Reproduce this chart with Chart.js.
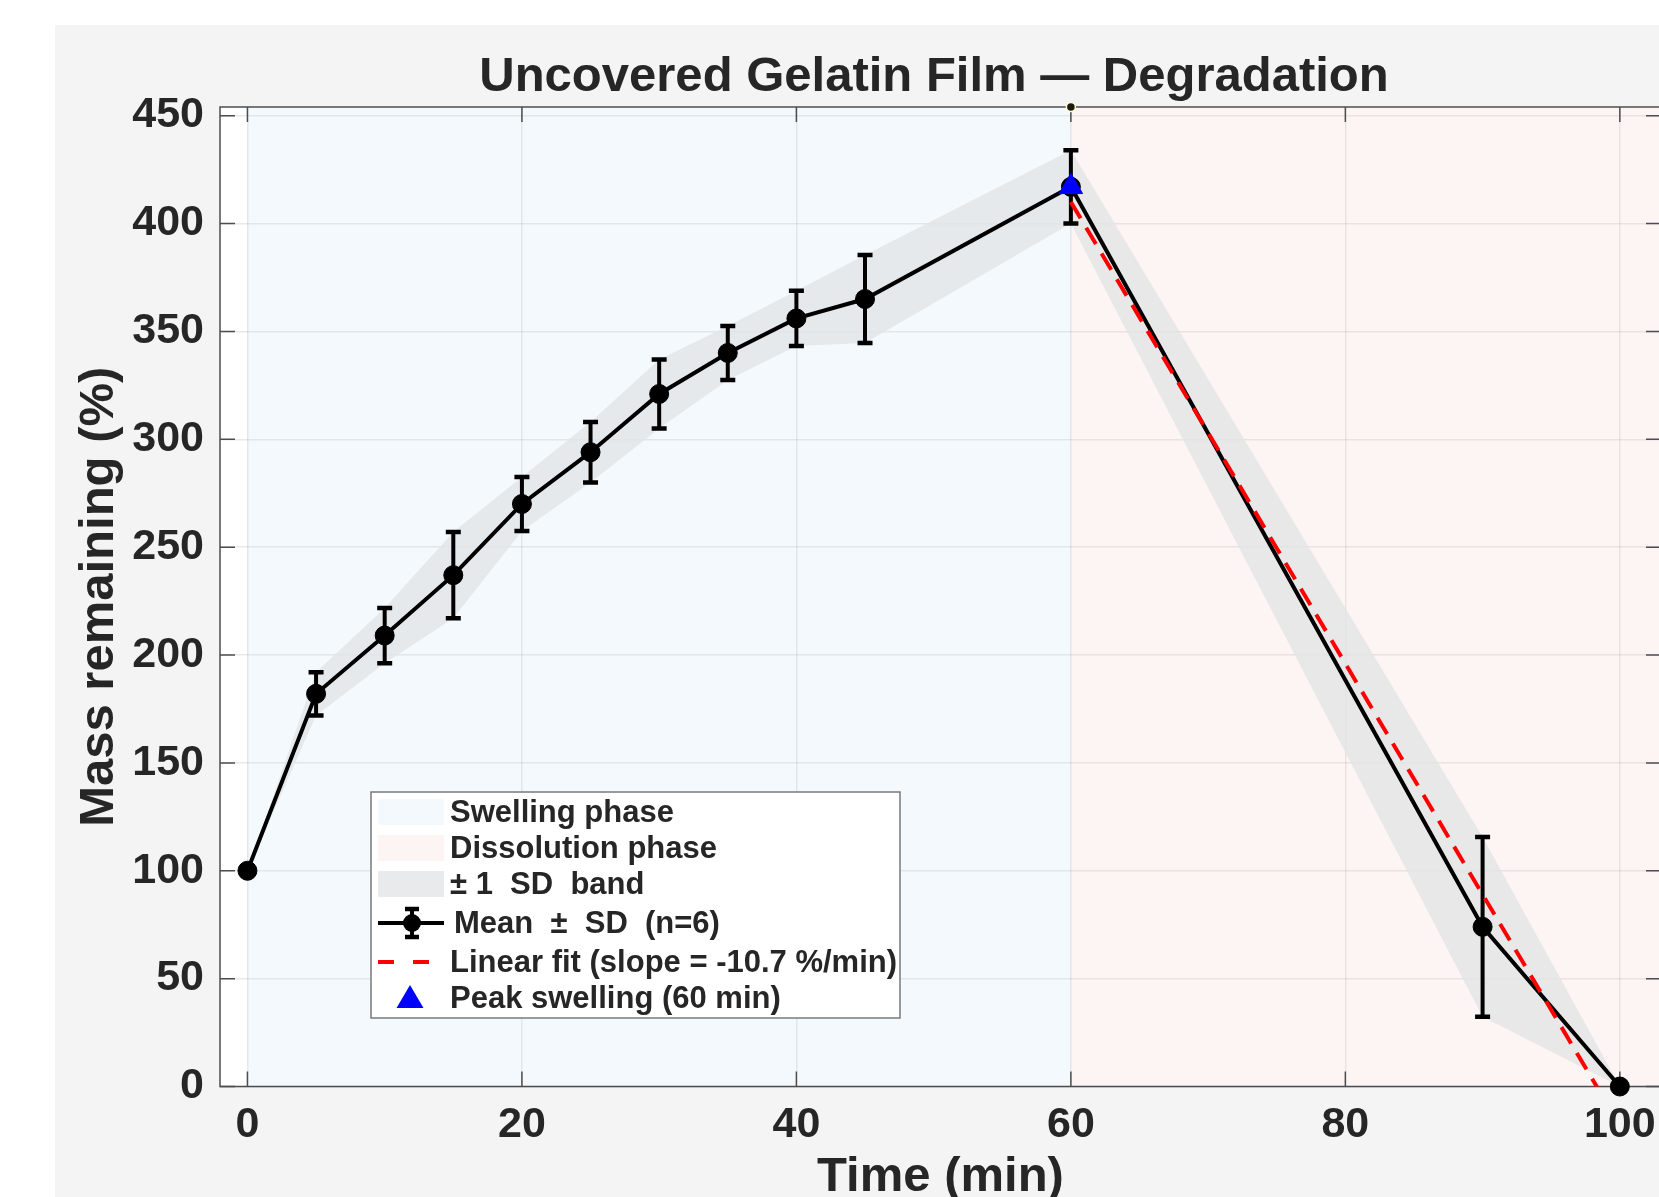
<!DOCTYPE html>
<html>
<head>
<meta charset="utf-8">
<script src="https://cdn.jsdelivr.net/npm/chart.js@4.4.1/dist/chart.umd.min.js"></script>
<style>
html,body{margin:0;padding:0;overflow:hidden;background:#fff;width:1659px;height:1197px}
#c{position:absolute;left:0;top:0}
</style>
</head>
<body>
<canvas id="c" width="1700" height="1197" style="width:1700px;height:1197px"></canvas>
<script>
// ---------- data ----------
const chartTitle = 'Uncovered Gelatin Film \u2014 Degradation';
const xAxisTitle = 'Time (min)';
const yAxisTitle = 'Mass remaining (%)';
const timeMin  = [0, 5, 10, 15, 20, 25, 30, 35, 40, 45, 60, 90, 100];
const meanMass = [100, 182, 209, 237, 270, 294, 321, 340, 356, 365, 417, 74, 0];
const sdMass   = [0, 10, 12.8, 20, 12.5, 14, 16, 12.5, 12.8, 20.4, 17, 41.7, 0];
const fitTime  = [60, 100];
const fitMass  = [410, -18];
const peakTime = [60];
const peakMass = [417];
const swellingRange    = [0, 60];
const dissolutionRange = [60, 103];
const markTime = [60];
const markMass = [454];
const xTickValues = [0, 20, 40, 60, 80, 100];
const xTickLabels = ['0', '20', '40', '60', '80', '100'];
const yTickValues = [0, 50, 100, 150, 200, 250, 300, 350, 400, 450];
const yTickLabels = ['0', '50', '100', '150', '200', '250', '300', '350', '400', '450'];
const seriesLabels = ['Swelling phase', 'Dissolution phase', '\u00b1 1  SD  band',
  'Mean  \u00b1  SD  (n=6)', 'Linear fit (slope = -10.7 %/min)', 'Peak swelling (60 min)'];

// ---------- style ----------
const FONT = '"Liberation Sans", Arial, Helvetica, sans-serif';
const TEXT = '#262626';
const X_MIN = -2, X_MAX = 103, Y_MIN = 0, Y_MAX = 454;
const SWELL_BG = 'rgba(200,225,245,0.2)';
const DISS_BG  = 'rgba(245,195,195,0.18)';
const BAND_BG  = 'rgba(226,228,230,0.78)';

const pts = (xs, ys) => xs.map((x, i) => ({x: x, y: ys[i]}));
const upper = meanMass.map((m, i) => m + sdMass[i]);
const lower = meanMass.map((m, i) => m - sdMass[i]);

const MEAN_IDX = 4;

const framePlugin = {
  id: 'frame',
  beforeDraw(chart) {
    const {ctx, chartArea: a} = chart;
    ctx.save();
    ctx.fillStyle = '#ffffff';
    ctx.fillRect(0, 0, chart.width, chart.height);
    ctx.fillStyle = '#f4f4f4';
    ctx.fillRect(55, 25, chart.width - 55, chart.height - 25);
    ctx.fillStyle = '#ffffff';
    ctx.fillRect(a.left, a.top, a.right - a.left, a.bottom - a.top);
    ctx.restore();
  },
  afterDatasetDraw(chart, args) {
    if (args.index !== 0) return;
    const {ctx, chartArea: a, scales: {x, y}} = chart;
    ctx.save();
    ctx.strokeStyle = '#4d4d4d';
    ctx.lineWidth = 1.5;
    ctx.strokeRect(a.left, a.top, a.right - a.left, a.bottom - a.top);
    const L = 15;
    ctx.beginPath();
    xTickValues.forEach(v => {
      const p = x.getPixelForValue(v);
      ctx.moveTo(p, a.bottom); ctx.lineTo(p, a.bottom - L);
      ctx.moveTo(p, a.top); ctx.lineTo(p, a.top + L);
    });
    yTickValues.forEach(v => {
      const p = y.getPixelForValue(v);
      ctx.moveTo(a.left, p); ctx.lineTo(a.left + L, p);
      ctx.moveTo(a.right, p); ctx.lineTo(a.right - L, p);
    });
    ctx.stroke();
    ctx.restore();
  },
  beforeDatasetDraw(chart, args) {
    if (args.index !== MEAN_IDX) return;
    const {ctx, scales: {x, y}} = chart;
    ctx.save();
    ctx.strokeStyle = '#000';
    timeMin.forEach((t, i) => {
      if (!sdMass[i]) return;
      const px = x.getPixelForValue(t);
      const top = y.getPixelForValue(meanMass[i] + sdMass[i]);
      const bot = y.getPixelForValue(meanMass[i] - sdMass[i]);
      ctx.lineWidth = 4;
      ctx.beginPath();
      ctx.moveTo(px, top); ctx.lineTo(px, bot);
      ctx.stroke();
      ctx.lineWidth = 4.5;
      ctx.beginPath();
      ctx.moveTo(px - 7.5, top); ctx.lineTo(px + 7.5, top);
      ctx.moveTo(px - 7.5, bot); ctx.lineTo(px + 7.5, bot);
      ctx.stroke();
    });
    ctx.restore();
  },
  afterDraw(chart) {
    const ctx = chart.ctx;
    const ds = chart.data.datasets;
    ctx.save();
    // title
    ctx.fillStyle = TEXT;
    ctx.font = 'bold 49px ' + FONT;
    ctx.textAlign = 'center';
    ctx.textBaseline = 'alphabetic';
    ctx.fillText(chartTitle, 934, 91);
    // legend
    const L = 371, T = 792, R = 900, B = 1018;
    ctx.fillStyle = '#ffffff';
    ctx.fillRect(L, T, R - L, B - T);
    ctx.strokeStyle = '#7a7a7a';
    ctx.lineWidth = 1.5;
    ctx.strokeRect(L, T, R - L, B - T);
    const rows = [812, 848, 884, 923, 962, 998];
    const items = [[0, 'patch'], [1, 'patch'], [3, 'patch'], [4, 'errbar'], [5, 'dash'], [6, 'tri']];
    items.forEach(([idx, kind], k) => {
      const yy = rows[k];
      const d = ds[idx];
      if (kind === 'patch') {
        ctx.fillStyle = d.backgroundColor;
        ctx.fillRect(378, yy - 13, 66, 26);
      } else if (kind === 'errbar') {
        ctx.strokeStyle = '#000'; ctx.lineWidth = 4;
        ctx.beginPath(); ctx.moveTo(378, yy); ctx.lineTo(444, yy); ctx.stroke();
        ctx.beginPath(); ctx.moveTo(412, yy - 14); ctx.lineTo(412, yy + 14); ctx.stroke();
        ctx.lineWidth = 4.5;
        ctx.beginPath();
        ctx.moveTo(405, yy - 14); ctx.lineTo(419, yy - 14);
        ctx.moveTo(405, yy + 14); ctx.lineTo(419, yy + 14);
        ctx.stroke();
        ctx.fillStyle = '#000';
        ctx.beginPath(); ctx.arc(412, yy, 9, 0, Math.PI * 2); ctx.fill();
      } else if (kind === 'dash') {
        ctx.strokeStyle = d.borderColor; ctx.lineWidth = 4;
        ctx.setLineDash([16, 19]);
        ctx.beginPath(); ctx.moveTo(378, yy); ctx.lineTo(444, yy); ctx.stroke();
        ctx.setLineDash([]);
      } else if (kind === 'tri') {
        ctx.fillStyle = d.backgroundColor;
        ctx.beginPath();
        ctx.moveTo(410, yy - 13); ctx.lineTo(423.5, yy + 10); ctx.lineTo(396.5, yy + 10);
        ctx.closePath(); ctx.fill();
      }
      ctx.fillStyle = TEXT;
      ctx.font = 'bold 31px ' + FONT;
      ctx.textAlign = 'left';
      ctx.textBaseline = 'middle';
      ctx.fillText(d.label, kind === 'errbar' ? 454 : 450, yy + 1);
    });
    ctx.restore();
  }
};

const tickFont = {family: FONT, size: 43, weight: 'bold'};
const gridOpts = {color: 'rgba(0,0,0,0.09)', lineWidth: 1.5, drawTicks: false};

new Chart(document.getElementById('c'), {
  type: 'line',
  data: {
    datasets: [
      { label: seriesLabels[0], data: pts(swellingRange, [Y_MAX, Y_MAX]), fill: 'start',
        backgroundColor: SWELL_BG, borderColor: 'rgba(0,0,0,0)', borderWidth: 0, pointRadius: 0, order: 10 },
      { label: seriesLabels[1], data: pts(dissolutionRange, [Y_MAX, Y_MAX]), fill: 'start',
        backgroundColor: DISS_BG, borderColor: 'rgba(0,0,0,0)', borderWidth: 0, pointRadius: 0, order: 10 },
      { label: '', data: pts(timeMin, upper), fill: false,
        borderColor: 'rgba(0,0,0,0)', borderWidth: 0, pointRadius: 0, order: 8 },
      { label: seriesLabels[2], data: pts(timeMin, lower), fill: '-1',
        backgroundColor: BAND_BG, borderColor: 'rgba(0,0,0,0)', borderWidth: 0, pointRadius: 0, order: 8 },
      { label: seriesLabels[3], data: pts(timeMin, meanMass), borderColor: '#000000', borderWidth: 4,
        pointRadius: 9.5, pointBackgroundColor: '#000000', pointBorderColor: '#000000', pointBorderWidth: 1,
        fill: false, clip: false, order: 5 },
      { label: seriesLabels[4], data: pts(fitTime, fitMass), borderColor: '#ff0000', borderWidth: 4,
        borderDash: [19, 11], pointRadius: 0, fill: false, order: 3 },
      { label: seriesLabels[5], data: pts(peakTime, peakMass), showLine: false, pointStyle: 'triangle',
        pointRadius: 13.5, backgroundColor: '#0000ff', pointBackgroundColor: '#0000ff', pointBorderColor: '#0000ff',
        pointBorderWidth: 1, clip: false, order: 1 },
      { label: '', data: pts(markTime, markMass), showLine: false, pointRadius: 4.5,
        pointBackgroundColor: '#1a1a1a', pointBorderColor: '#ffffc0', pointBorderWidth: 1.5, clip: false, order: 0 }
    ]
  },
  options: {
    responsive: false,
    animation: false,
    devicePixelRatio: 1,
    layout: { padding: { top: 107, left: 0, right: 39, bottom: 0 } },
    plugins: { legend: { display: false }, tooltip: { enabled: false }, title: { display: false } },
    elements: { line: { tension: 0 } },
    scales: {
      x: {
        type: 'linear', min: X_MIN, max: X_MAX,
        afterBuildTicks(s) { s.ticks = xTickValues.map(v => ({value: v})); },
        afterFit(s) { s.height = 110.5; },
        ticks: { color: TEXT, font: tickFont, padding: 13, maxRotation: 0, autoSkip: false,
                 callback: (v, i) => xTickLabels[i] },
        grid: gridOpts,
        border: { display: false },
        title: { display: true, text: xAxisTitle, color: TEXT,
                 font: {family: FONT, size: 49, weight: 'bold', lineHeight: 0.7}, padding: {top: 0, bottom: 2} }
      },
      y: {
        type: 'linear', min: Y_MIN, max: Y_MAX,
        afterBuildTicks(s) { s.ticks = yTickValues.map(v => ({value: v})); },
        afterFit(s) { s.width = 220; },
        ticks: { color: TEXT, font: tickFont, padding: 16, callback: (v, i) => yTickLabels[i] },
        grid: gridOpts,
        border: { display: false },
        title: { display: true, text: yAxisTitle, color: TEXT,
                 font: {family: FONT, size: 49, weight: 'bold', lineHeight: 1.2}, padding: {top: 70, bottom: 0} }
      }
    }
  },
  plugins: [framePlugin]
});
</script>
</body>
</html>
